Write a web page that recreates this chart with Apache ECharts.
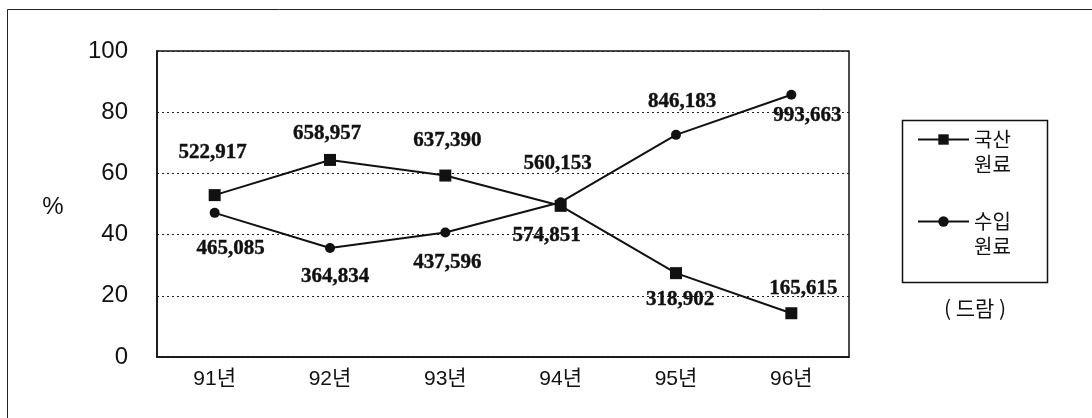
<!DOCTYPE html>
<html>
<head>
<meta charset="utf-8">
<script src="https://cdn.jsdelivr.net/npm/echarts@6/dist/echarts.min.js"></script>
<style>
  html, body { margin: 0; padding: 0; background: #fff; }
  #chart { width: 1092px; height: 418px; }
</style>
</head>
<body>
<div id="chart"></div>
<script>
// 연도
const years = ['91년', '92년', '93년', '94년', '95년', '96년']
// 비율 (%)
const domesticPct = [52.9, 64.4, 59.3, 49.4, 27.4, 14.3]
const importPct = [47.1, 35.6, 40.7, 50.6, 72.6, 85.7]
// 수량 (드람) - 라벨
const domesticAmt = ['522,917', '658,957', '637,390', '560,153', '318,902', '165,615']
const importAmt = ['465,085', '364,834', '437,596', '574,851', '846,183', '993,663']
const yTicks = [0, 20, 40, 60, 80, 100]

// label placement (px offsets from each point)
const domesticOff = [[-2, -43], [-3, -26], [2, -35], [-3, -42], [4, 26], [12, -25]]
const importOff = [[16, 36], [5, 29], [2, 30], [-14, 33], [6, -33], [16, 21]]

const labelFont = {
  fontFamily: 'Liberation Serif',
  fontWeight: 'bold',
  fontSize: 21,
  color: '#111',
  textBorderColor: '#111',
  textBorderWidth: 0.4
}

function points(vals, amts, offs) {
  return vals.map((v, i) => ({
    value: v,
    label: { show: true, position: 'inside', offset: offs[i], formatter: amts[i], ...labelFont }
  }))
}

const chart = echarts.init(document.getElementById('chart'))
chart.setOption({
  animation: false,
  backgroundColor: '#fff',
  grid: {
    left: 157, right: 243, top: 51, bottom: 61,
    show: true, borderColor: '#111', borderWidth: 1.5
  },
  xAxis: {
    type: 'category',
    data: years,
    boundaryGap: true,
    axisLine: { lineStyle: { color: '#111', width: 1.5 } },
    axisTick: { inside: true, length: 8, lineStyle: { color: '#111', type: 'dotted' } },
    axisLabel: { margin: 12, fontSize: 21, color: '#111', fontFamily: 'Liberation Sans, Noto Sans CJK KR' }
  },
  yAxis: {
    type: 'value',
    min: yTicks[0], max: yTicks[yTicks.length - 1], interval: 20,
    axisLine: { show: true, lineStyle: { color: '#111', width: 1.5 } },
    axisTick: { show: false },
    splitLine: { lineStyle: { color: '#222', type: [2, 3], width: 1 } },
    axisLabel: { margin: 29, fontSize: 24, color: '#111', fontFamily: 'Liberation Sans' }
  },
  legend: {
    orient: 'vertical',
    left: 912, top: 97,
    itemWidth: 51, itemHeight: 13, itemGap: 7,
    formatter: n => ' \n' + n.slice(0, 2) + '\n' + n.slice(2),
    textStyle: {
      fontFamily: 'Noto Sans CJK KR', fontSize: 20, lineHeight: 25, color: '#111'
    },
    data: ['국산원료', '수입원료']
  },
  graphic: [
    { type: 'rect', left: 5, top: 7, shape: { width: 1085, height: 420 },
      style: { fill: 'none', stroke: '#222', lineWidth: 1 } },
    { type: 'rect', left: 900, top: 118, shape: { width: 145, height: 162 },
      style: { fill: 'none', stroke: '#111', lineWidth: 1.5 } },
    { type: 'text', x: 53, y: 207,
      style: { text: '%', fontSize: 24, fontFamily: 'Liberation Sans', fill: '#111',
        align: 'center', verticalAlign: 'middle' } },
    { type: 'text', x: 975, y: 308,
      style: { text: '( 드람 )', fontSize: 21, fontFamily: 'Noto Sans CJK KR', fill: '#111',
        align: 'center', verticalAlign: 'middle' } }
  ],
  series: [
    {
      name: '국산원료', type: 'line',
      data: points(domesticPct, domesticAmt, domesticOff),
      symbol: 'rect', symbolSize: 12,
      lineStyle: { color: '#111', width: 2 },
      itemStyle: { color: '#111' }
    },
    {
      name: '수입원료', type: 'line',
      data: points(importPct, importAmt, importOff),
      symbol: 'circle', symbolSize: 10,
      lineStyle: { color: '#111', width: 2 },
      itemStyle: { color: '#111' }
    }
  ]
})
</script>
</body>
</html>
